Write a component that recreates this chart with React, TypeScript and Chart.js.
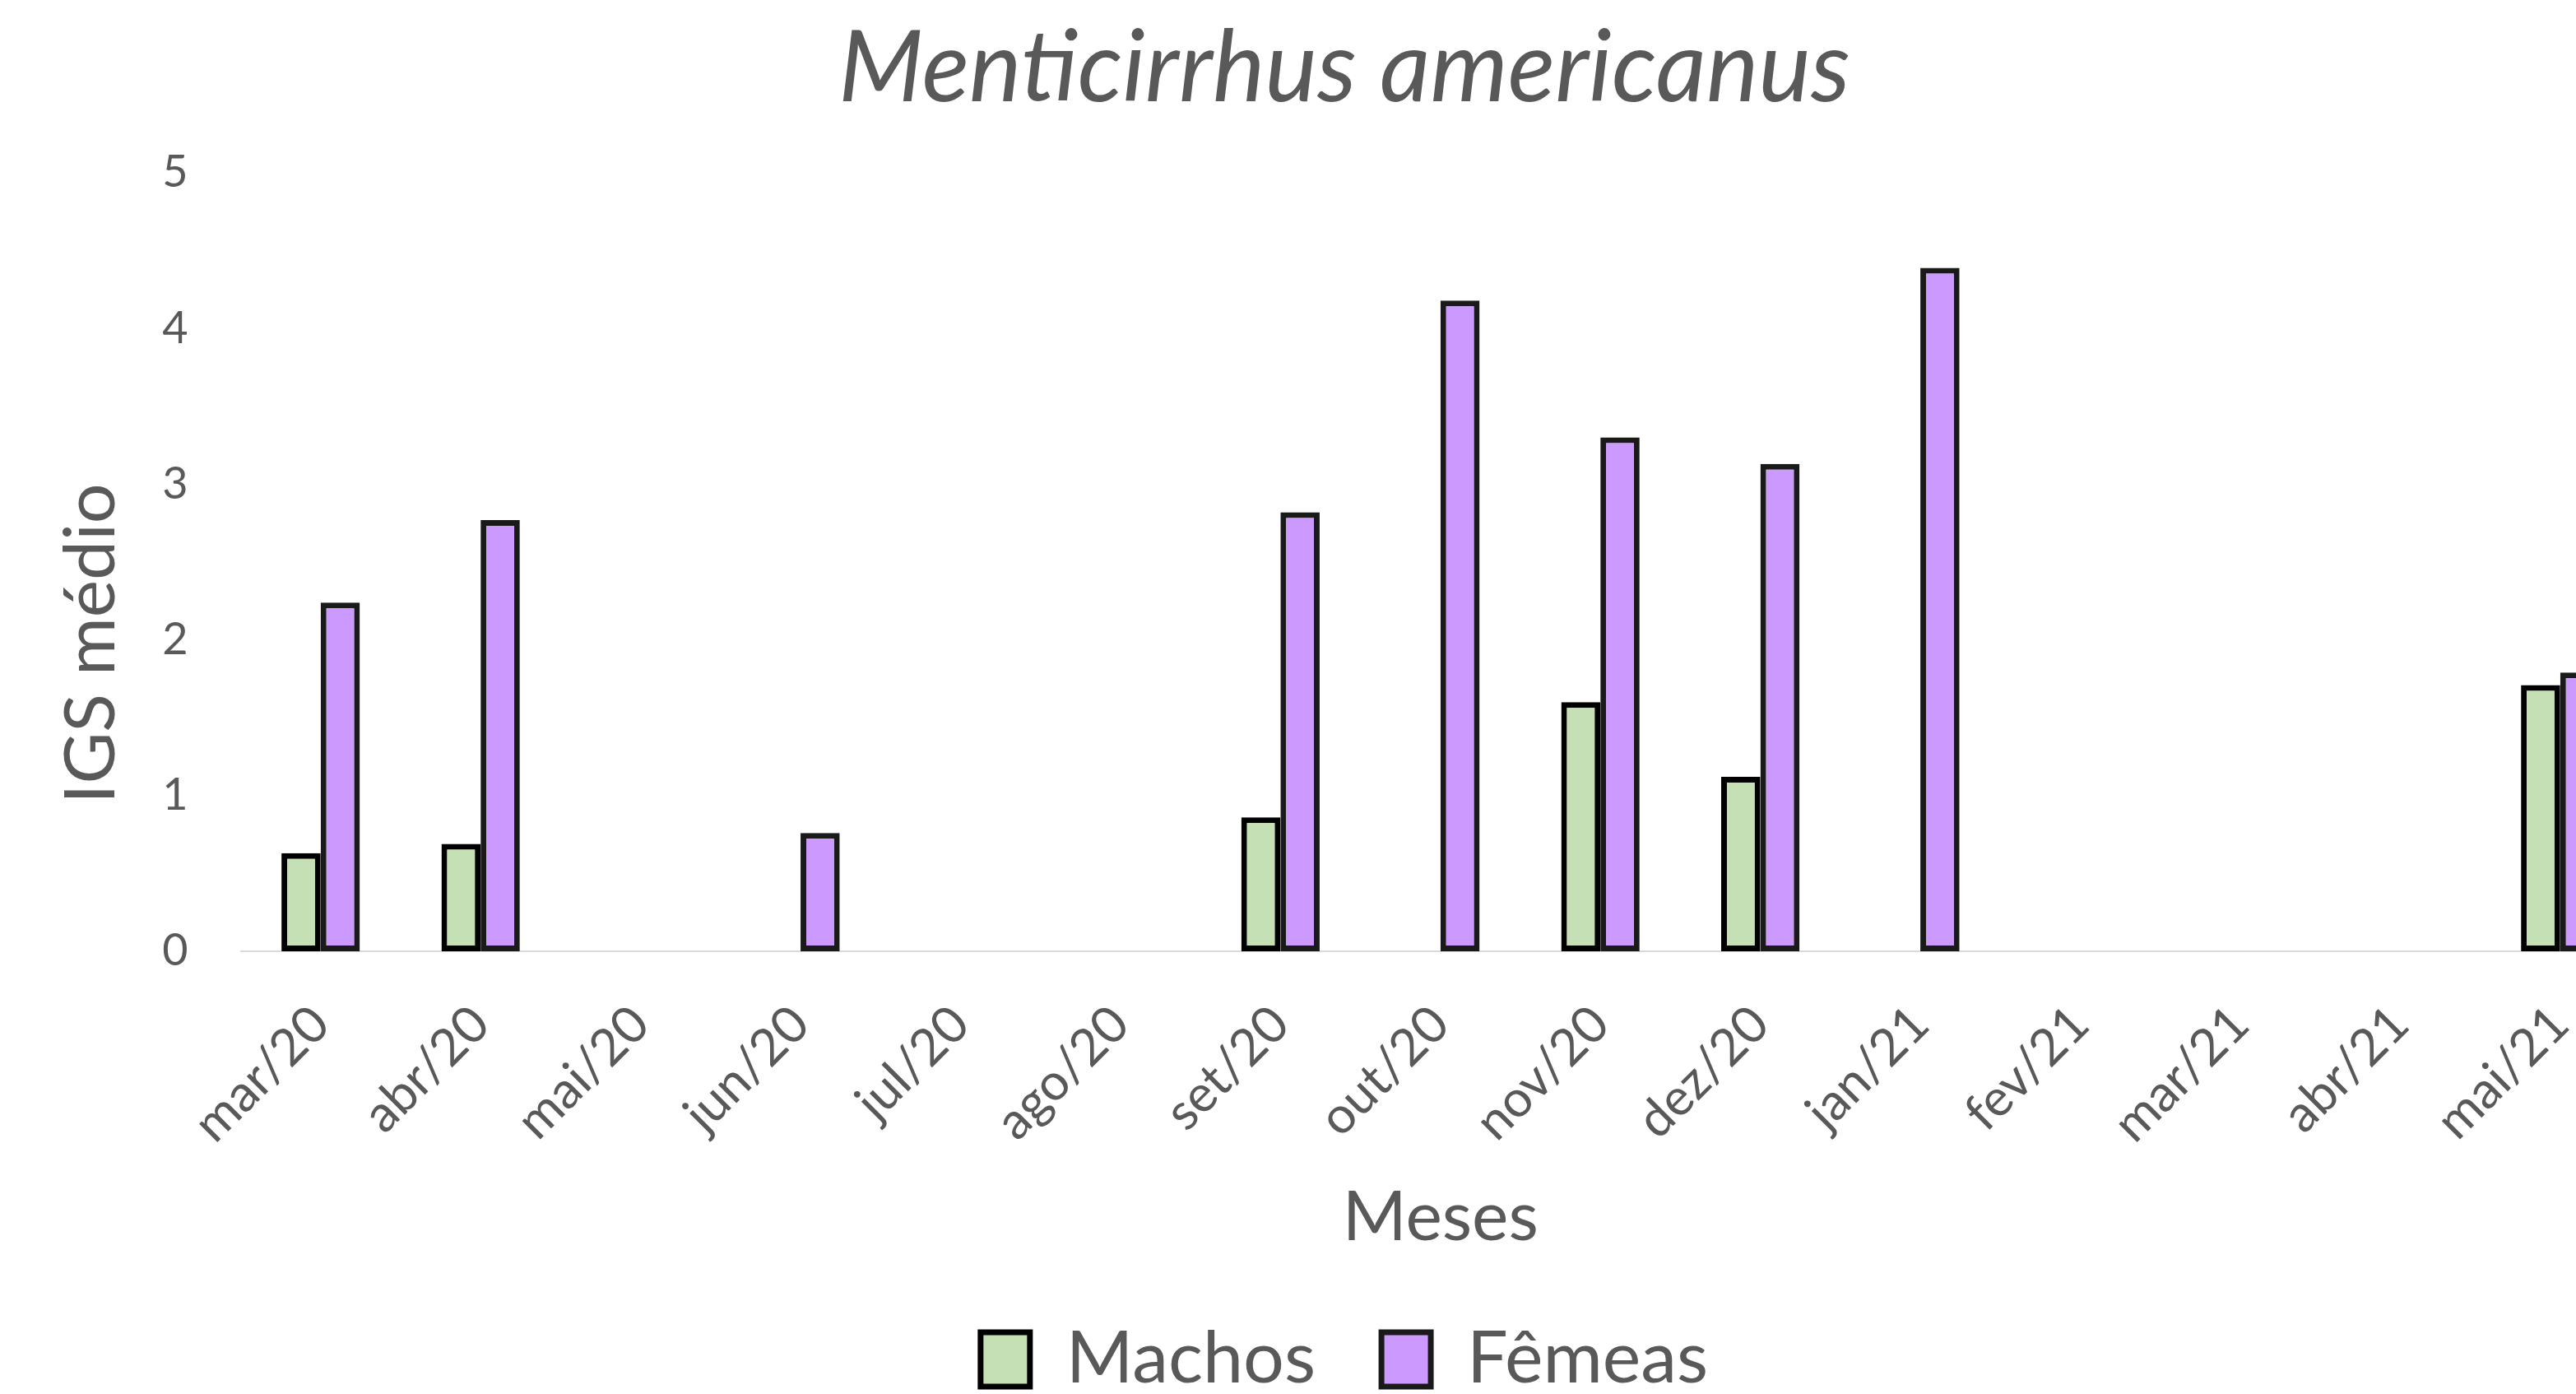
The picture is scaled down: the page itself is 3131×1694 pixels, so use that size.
import React, { useEffect, useRef } from "react";
import { Chart, registerables } from "chart.js";

Chart.register(...registerables);

const categories = [
  "mar/20", "abr/20", "mai/20", "jun/20", "jul/20", "ago/20", "set/20", "out/20",
  "nov/20", "dez/20", "jan/21", "fev/21", "mar/21", "abr/21", "mai/21",
];
const machos = [0.63, 0.69, null, null, null, null, 0.86, null, 1.6, 1.12, null, null, null, null, 1.71];
const femeas = [2.24, 2.77, null, 0.76, null, null, 2.82, 4.18, 3.3, 3.13, 4.39, null, null, null, 1.79];
const yTicks = [0, 1, 2, 3, 4, 5];

const TEXT = "#595959";
const FONT = "Lato, 'Open Sans', sans-serif";

export default function App() {
  const ref = useRef<HTMLCanvasElement | null>(null);
  useEffect(() => {
    document.body.style.margin = "0";
    const canvas = ref.current!;
    const chart = new Chart(canvas, {
      type: "bar",
      data: {
        labels: categories,
        datasets: [
          {
            label: "Machos",
            data: machos,
            backgroundColor: "#C5E0B4",
            borderColor: "#000000",
            borderWidth: 7,
            borderSkipped: false,
            categoryPercentage: 0.49,
            barPercentage: 1,
          },
          {
            label: "Fêmeas",
            data: femeas,
            backgroundColor: "#CC99FF",
            borderColor: "#1a1a1a",
            borderWidth: 7,
            borderSkipped: false,
            categoryPercentage: 0.49,
            barPercentage: 1,
          },
        ],
      },
      options: {
        responsive: false,
        animation: false,
        layout: { autoPadding: false, padding: { left: 0, right: 0, top: 0, bottom: -12 } },
        plugins: {
          title: {
            display: true,
            text: "Menticirrhus americanus",
            color: TEXT,
            font: { family: FONT, size: 120, style: "italic", weight: "normal" },
            padding: { top: 12, bottom: 54 },
          },
          legend: {
            display: true,
            position: "bottom",
            labels: {
              color: TEXT,
              font: { family: FONT, size: 88 },
              boxWidth: 60,
              boxHeight: 66,
              padding: 80,
            },
          },
          tooltip: { enabled: false },
        },
        scales: {
          x: {
            grid: { display: false, drawTicks: false },
            border: { display: true, color: "#D9D9D9", width: 2 },
            ticks: {
              color: TEXT,
              font: { family: FONT, size: 62 },
              minRotation: 45,
              maxRotation: 45,
              autoSkip: false,
              padding: 52,
            },
            title: {
              display: true,
              text: "Meses",
              color: TEXT,
              font: { family: FONT, size: 84 },
              padding: { top: -26, bottom: -2 },
            },
          },
          y: {
            min: 0,
            max: 5,
            afterBuildTicks: (axis: any) => {
              axis.ticks = yTicks.map((v) => ({ value: v }));
            },
            grid: { display: false, drawTicks: false },
            border: { display: false },
            ticks: {
              color: TEXT,
              font: { family: FONT, size: 54 },
              padding: 64,
            },
            title: {
              display: true,
              text: "IGS médio" + "\u0020".repeat(9),
              color: TEXT,
              font: { family: FONT, size: 86 },
              padding: { top: 60, bottom: -30 },
            },
          },
          yRight: {
            position: "right",
            display: true,
            grid: { display: false, drawTicks: false },
            border: { display: false },
            ticks: { display: false },
            title: { display: false },
            afterFit: (s: any) => {
              s.width = 59;
            },
          },
        },
      },
    });
    return () => chart.destroy();
  }, []);

  return (
    <div style={{ width: 3131, height: 1694, overflow: "hidden", background: "#fff" }}>
      <canvas ref={ref} width={3268} height={1694} style={{ width: 3268, height: 1694, display: "block" }} />
    </div>
  );
}
